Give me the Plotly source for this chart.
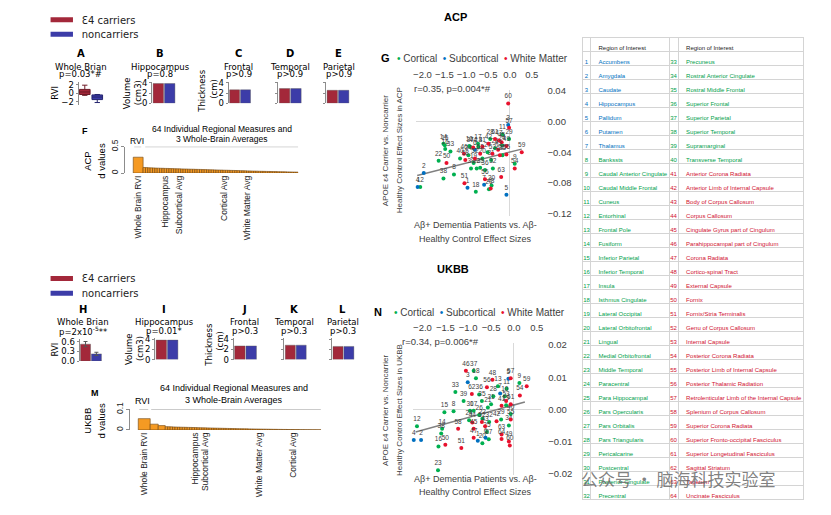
import plotly.graph_objects as go

W, H = 831, 515
DJ = 'DejaVu Sans'
AR = 'Liberation Sans, Arial, sans-serif'
RED = '#A3283A'
BLUE = '#3C3CA8'
C_CORT = '#00B050'
C_SUB = '#0070C0'
C_WM = '#E8112D'
ORANGE = '#F59A23'
GREY_TXT = '#404040'

# ---------------- data ----------------
groups = ['Ɛ4 carriers', 'noncarriers']

# ACP whole brain RVI (box summary)
acp_rvi_lo = [-0.5, -2.2]
acp_rvi_q1 = [-0.3, -1.5]
acp_rvi_med = [0.3, -0.9]
acp_rvi_q3 = [0.9, -0.4]
acp_rvi_hi = [1.9, -0.3]

acp_hippo = [3.9, 3.9]
acp_frontal = [2.65, 2.65]
acp_temporal = [2.9, 2.9]
acp_parietal = [2.55, 2.55]

ukbb_rvi = [0.52, 0.22]
ukbb_rvi_err = [0.08, 0.05]
ukbb_hippo = [3.85, 3.85]
ukbb_frontal = [2.7, 2.7]
ukbb_temporal = [2.85, 2.85]
ukbb_parietal = [2.6, 2.6]

# d values (RVI first, then 64 regions + 3 averages, sorted)
acp_d = [0.30,
         0.105, 0.103, 0.100, 0.098, 0.097, 0.094, 0.093, 0.091, 0.090, 0.088,
         0.087, 0.085, 0.084, 0.082, 0.081, 0.080, 0.078, 0.077, 0.076, 0.074,
         0.073, 0.072, 0.070, 0.069, 0.068, 0.066, 0.065, 0.064, 0.062, 0.061,
         0.060, 0.058, 0.057, 0.056, 0.054, 0.053, 0.052, 0.050, 0.049, 0.048,
         0.046, 0.045, 0.044, 0.042, 0.041, 0.040, 0.038, 0.037, 0.036, 0.034,
         0.033, 0.032, 0.031, 0.030, 0.029, 0.028, 0.027, 0.026, 0.025, 0.024,
         0.023, 0.022, 0.021, 0.020, 0.019, 0.018]
acp_d_label_idx = [0, 10, 16, 35, 45]
acp_d_labels = ['Whole Brain RVI', 'Hippocampus', 'Subcortical Avg', 'Cortical Avg', 'White Matter Avg']

ukbb_d = [0.055, 0.028, 0.021,
          0.016, 0.0155, 0.015, 0.0145, 0.014, 0.0137, 0.0133, 0.013, 0.0127, 0.0123,
          0.012, 0.0117, 0.0113, 0.011, 0.0107, 0.0103, 0.010, 0.0097, 0.0094, 0.0091,
          0.0088, 0.0085, 0.0082, 0.0079, 0.0076, 0.0073, 0.0070, 0.0067, 0.0065, 0.0062,
          0.0060, 0.0057, 0.0055, 0.0052, 0.0050, 0.0048, 0.0046, 0.0044, 0.0042, 0.0040,
          0.0038, 0.0036, 0.0034, 0.0032, 0.0030, 0.0028, 0.0026, 0.0025, 0.0023, 0.0022,
          0.0020, 0.0019, 0.0017, 0.0016, 0.0014, 0.0013, 0.0012, 0.0010, 0.0009, 0.0008,
          0.0007, 0.0006, 0.0005, 0.0004]
ukbb_d_label_idx = [0, 15, 19, 41, 55]
ukbb_d_labels = ['Whole Brain RVI', 'Hippocampus', 'Subcortical Avg', 'White Matter Avg', 'Cortical Avg']

regions = ['Accumbens', 'Amygdala', 'Caudate', 'Hippocampus', 'Pallidum', 'Putamen', 'Thalamus',
           'Bankssts', 'Caudal Anterior Cingulate', 'Caudal Middle Frontal', 'Cuneus', 'Entorhinal',
           'Frontal Pole', 'Fusiform', 'Inferior Parietal', 'Inferior Temporal', 'Insula',
           'Isthmus Cingulate', 'Lateral Occipital', 'Lateral Orbitofrontal', 'Lingual',
           'Medial Orbitofrontal', 'Middle Temporal', 'Paracentral', 'Para Hippocampal',
           'Pars Opercularis', 'Pars Orbitalis', 'Pars Triangularis', 'Pericalcarine', 'Postcentral',
           'Posterior Cingulate', 'Precentral', 'Precuneus', 'Rostral Anterior Cingulate',
           'Rostral Middle Frontal', 'Superior Frontal', 'Superior Parietal', 'Superior Temporal',
           'Supramarginal', 'Transverse Temporal', 'Anterior Corona Radiata',
           'Anterior Limb of Internal Capsule', 'Body of Corpus Callosum', 'Corpus Callosum',
           'Cingulate Gyrus part of Cingulum', 'Parahippocampal part of Cingulum', 'Corona Radiata',
           'Cortico-spinal Tract', 'External Capsule', 'Fornix', 'Fornix/Stria Terminalis',
           'Genu of Corpus Callosum', 'Internal Capsule', 'Posterior Corona Radiata',
           'Posterior Limb of Internal Capsule', 'Posterior Thalamic Radiation',
           'Retrolenticular Limb of the Internal Capsule', 'Splenium of Corpus Callosum',
           'Superior Corona Radiata', 'Superior Fronto-occipital Fasciculus',
           'Superior Longetudinal Fasciculus', 'Sagittal Striatum', 'Tapetum', 'Uncinate Fasciculus']
region_type = ['Subcortical'] * 7 + ['Cortical'] * 33 + ['White Matter'] * 24

# ACP scatter (x: dementia effect size, y: e4 effect size)
acp_x = [-0.97, -1.97, -0.04, -2.11, -0.08, -0.80, -0.59, -1.28, 0.11, -0.93,
         -0.17, -2.05, -0.72, -1.52, -1.49, -1.48, -0.73, -0.78, -0.83, -0.63,
         -0.48, -1.63, -0.76, -0.18, -0.68, -0.34, -0.51, -0.45, -0.02, -0.42,
         -0.43, -0.39, -1.36, -0.95, -0.17, -0.57, -0.91, -1.52, -0.89, -1.14,
         -0.63, -0.49, -0.27, -0.84, -0.19, -1.05, -0.25, -0.44, -0.08, -1.45,
         -1.04, -0.80, -0.40, 0.11, -0.08, -0.57, -0.02, -1.02, 0.27, -0.04,
         -0.34, -0.68, -0.20, -0.23]
acp_y = [-0.086, -0.067, -0.005, -0.085, -0.095, -0.037, -0.082, -0.069, -0.055, -0.032,
         -0.017, -0.085, -0.033, -0.029, -0.031, -0.036, -0.029, -0.091, -0.054, -0.048,
         -0.088, -0.051, -0.061, -0.031, -0.060, -0.035, -0.040, -0.023, -0.023, -0.083,
         -0.050, -0.061, -0.039, -0.044, -0.044, -0.063, -0.033, -0.074, -0.061, -0.048,
         -0.033, -0.029, -0.037, -0.034, -0.027, -0.042, -0.025, -0.087, -0.032, -0.054,
         -0.080, -0.048, -0.042, -0.061, -0.043, -0.075, -0.0085, -0.050, -0.040, 0.023,
         -0.023, -0.042, -0.072, -0.044]
acp_trend_x = [-2.12, 0.27]
acp_trend_y = [-0.070, -0.036]

# UKBB scatter
ukbb_x = [-0.79, -2.03, -1.01, -2.19, -0.12, -0.62, -0.30, -1.32, 0.12, -0.20,
          -0.16, -2.12, -0.35, -1.57, -1.52, -1.65, -0.88, -0.83, -0.17, -0.69,
          -0.57, -0.69, -1.66, -0.98, -0.59, -0.76, -0.55, -0.45, -0.28, -0.96,
          -0.50, -0.54, -1.28, -0.11, -0.70, -0.76, -0.88, -1.59, -1.10, -0.07,
          -0.27, -0.38, -0.63, -0.91, -0.88, -1.05, -0.88, -0.47, -0.11, -1.50,
          -1.15, -0.70, -0.17, 0.13, -0.07, -0.59, -0.07, -1.22, 0.28, -0.09,
          -0.07, -0.92, -0.27, -0.27]
ukbb_y = [-0.0097, -0.0095, 0.0084, -0.0095, 0.0095, -0.0088, 0.0049, -0.0006, 0.0082, 0.0041,
          0.0064, -0.0052, 0.0072, -0.0060, -0.0009, -0.0115, -0.0004, 0.0097, 0.0013, -0.0105,
          0.0006, -0.0029, -0.0189, -0.0034, -0.0070, -0.0017, -0.0093, 0.0041, -0.0031, -0.0004,
          0.0016, -0.0039, 0.0054, -0.0050, 0.0026, 0.0046, 0.0120, -0.0075, 0.0026, -0.0014,
          0.0011, -0.0037, -0.0052, -0.0041, -0.0060, 0.0120, -0.0088, 0.0092, -0.0100, -0.0110,
          -0.0120, -0.0039, 0.0026, 0.0043, -0.0031, 0.0069, 0.0097, -0.0060, 0.0072, -0.0112,
          0.0016, 0.0048, -0.0078, -0.0092]
ukbb_trend_x = [-2.15, 0.24]
ukbb_trend_y = [-0.0070, 0.0023]

effect_ticks = [-2.0, -1.5, -1.0, -0.5, 0.0, 0.5]


# ---------------- helpers ----------------
def fx(p):
    return p / W


def fy(p):
    return 1 - p / H


fig = go.Figure()
axn = [0]


def axes(x0, x1, y0, y1, xa=None, ya=None):
    axn[0] += 1
    k = '' if axn[0] == 1 else str(axn[0])
    xd = dict(domain=[fx(x0), fx(x1)], anchor='y' + k, showgrid=False, zeroline=False,
              showline=False, ticks='', showticklabels=False)
    yd = dict(domain=[fy(y1), fy(y0)], anchor='x' + k, showgrid=False, zeroline=False)
    xd.update(xa or {})
    yd.update(ya or {})
    fig.update_layout({'xaxis' + k: xd, 'yaxis' + k: yd})
    return 'x' + k, 'y' + k


def txt(x, y, s, size=8.5, family=DJ, color='black', angle=0, xanchor='center'):
    fig.add_annotation(x=fx(x), y=fy(y), xref='paper', yref='paper', text=s, showarrow=False,
                       font=dict(family=family, size=size, color=color), textangle=angle,
                       xanchor=xanchor, yanchor='middle')


def small_y(rng, tv, tt=None, labels=True):
    d = dict(range=rng, tickvals=tv, showticklabels=labels, showline=True, linecolor='#8c8c8c',
             linewidth=1, ticks='outside', ticklen=2, tickcolor='#8c8c8c',
             tickfont=dict(family=DJ, size=8.5))
    if tt:
        d['ticktext'] = tt
    return d


def bar_panel(x0, x1, y0, y1, vals, yax, err=None):
    xa, ya = axes(x0, x1, y0, y1, dict(range=[-0.55, 1.55]), yax)
    eb = dict(type='data', array=err, visible=True, color='#555', thickness=1, width=2) if err else None
    fig.add_trace(go.Bar(x=groups, y=vals, width=0.92, error_y=eb,
                         marker=dict(color=[RED, BLUE], line=dict(color='#555', width=0.4)),
                         showlegend=False, xaxis=xa, yaxis=ya))


def d_panel(x0, x1, y0, y1, vals, widths, xr, yr, tv, tt, lab_idx, labs):
    centers = []
    s = 0
    for w in widths:
        centers.append(s + w / 2)
        s += w
    xa, ya = axes(x0, x1, y0, y1,
                  dict(range=xr, showticklabels=True, tickangle=-90,
                       tickvals=[centers[i] for i in lab_idx], ticktext=labs,
                       tickfont=dict(family=AR, size=8.5, color='#222')),
                  dict(range=yr, tickvals=tv, ticktext=tt, tickangle=-90, showline=True,
                       linecolor='#8c8c8c', ticks='outside', ticklen=3, tickcolor='#8c8c8c',
                       tickfont=dict(family=AR, size=8.5, color='#222')))
    fig.add_trace(go.Bar(x=centers, y=vals, width=widths,
                         marker=dict(color=ORANGE, line=dict(color='#6b4310', width=0.6)),
                         showlegend=False, xaxis=xa, yaxis=ya))
    return xa, ya


def scatter_panel(x0, x1, y0, y1, xr, yr, yt, xs, ys, tx, ty):
    xa, ya = axes(x0, x1, y0, y1,
                  dict(range=xr, side='top', tickvals=effect_ticks, tickformat='.1f',
                       showticklabels=True, ticks='outside', ticklen=8,
                       tickcolor='rgba(0,0,0,0)', zeroline=True, zerolinecolor='#D9D9D9',
                       zerolinewidth=1, tickfont=dict(family=AR, size=9.5, color=GREY_TXT)),
                  dict(range=yr, side='right', tickvals=yt, tickformat='.2f', ticks='outside',
                       ticklen=4, tickcolor='rgba(0,0,0,0)', zeroline=True,
                       zerolinecolor='#D9D9D9', zerolinewidth=1,
                       tickfont=dict(family=AR, size=9.5, color=GREY_TXT)))
    fig.add_trace(go.Scatter(x=tx, y=ty, mode='lines', line=dict(color='#808080', width=1.5),
                             showlegend=False, xaxis=xa, yaxis=ya))
    for t, col in [('Cortical', C_CORT), ('Subcortical', C_SUB), ('White Matter', C_WM)]:
        idx = [i for i in range(64) if region_type[i] == t]
        fig.add_trace(go.Scatter(
            x=[xs[i] for i in idx], y=[ys[i] for i in idx], text=[str(i + 1) for i in idx],
            mode='markers+text', textposition='top center', cliponaxis=False,
            marker=dict(size=4, color=col),
            textfont=dict(family=AR, size=6.5, color=GREY_TXT),
            showlegend=False, xaxis=xa, yaxis=ya))


def legend_line(x, y, s):
    txt(x, y, s, size=10, family=AR, color=GREY_TXT, xanchor='left')


def legend_key(name, col, leg, xa, ya):
    fig.add_trace(go.Scatter(x=[None], y=[None], mode='markers', name=name, legend=leg,
                             marker=dict(symbol='line-ew', size=20, color=col,
                                         line=dict(width=7, color=col)),
                             xaxis=xa, yaxis=ya))


# ---------------- top block: ACP ----------------
txt(455, 10, '<b>ACP</b>', size=11, family=AR)

xa, ya = axes(76, 103, 77, 100, dict(range=[-0.5, 1.65]), small_y([-2.7, 2.6], [-2, 0, 2]))
for i, col, lc in [(0, RED, '#6e1a26'), (1, BLUE, '#25256e')]:
    fig.add_trace(go.Box(x=[groups[i]], lowerfence=[acp_rvi_lo[i]], q1=[acp_rvi_q1[i]],
                         median=[acp_rvi_med[i]], q3=[acp_rvi_q3[i]], upperfence=[acp_rvi_hi[i]],
                         fillcolor=col, line=dict(color=lc, width=1), width=0.85,
                         whiskerwidth=0.5, showlegend=False, xaxis=xa, yaxis=ya))
legend_key(groups[0], RED, 'legend', xa, ya)
legend_key(groups[1], BLUE, 'legend2', xa, ya)

bar_panel(150, 174, 76.5, 98.5, acp_hippo, small_y([0, 4.25], [0, 2, 4]))
bar_panel(227, 250, 76.5, 98.5, acp_frontal, small_y([0, 4.25], [0, 2, 4]))
bar_panel(277, 301, 76.5, 98.5, acp_temporal, small_y([0, 4.25], [0, 2, 4], labels=False))
bar_panel(325, 349, 76.5, 98.5, acp_parietal, small_y([0, 4.25], [0, 2, 4], labels=False))

for x, letter, l1, l2 in [(78, 'A', 'Whole Brian', 'p=0.03*#'), (158, 'B', 'Hippocampus', 'p=0.8'),
                          (237, 'C', 'Frontal', 'p>0.9'), (289, 'D', 'Temporal', 'p>0.9'),
                          (338, 'E', 'Parietal', 'p>0.9')]:
    txt(x, 48, '<b>%s</b>' % letter, size=10)
    txt(x, 61, l1, size=8.5)
    txt(x, 68.5, l2, size=8.5)
txt(52, 88, 'RVI', size=8.5, angle=-90)
txt(125, 88, 'Volume', size=8.5, angle=-90)
txt(136, 88, '(cm3)', size=8.5, angle=-90)
txt(200, 86, 'Thickness', size=8.5, angle=-90)
txt(212, 84, '(cm)', size=8.5, angle=-90)

fxa, fya = d_panel(123, 297, 143, 170, acp_d, [4.2] + [1] * 66, [-3.4, 70.2], [0, 0.5],
                   [0, 0.5], ['0', '0.5'], acp_d_label_idx, acp_d_labels)
fig.add_shape(type='line', xref=fxa, yref=fya, x0=0.4, x1=3.4, y0=0.5, y1=0.5,
              line=dict(color='#8c8c8c', width=1))
fig.add_shape(type='line', xref=fxa, yref=fya, x0=5.1, x1=70.2, y0=0.5, y1=0.5,
              line=dict(color='#8c8c8c', width=1))
txt(82, 127, '<b>F</b>', size=9, family=AR)
txt(135, 137.5, 'RVI', size=8.5, family=AR)
txt(220, 125, '64 Individual Regional Measures and', size=8.5, family=AR)
txt(220, 135.5, '3 Whole-Brain Averages', size=8.5, family=AR)
txt(85, 157, 'ACP', size=9.5, family=AR, angle=-90)
txt(99, 157, 'd values', size=9.5, family=AR, angle=-90)

scatter_panel(415.4, 540.8, 85.3, 213.6, [-2.15, 0.7], [-0.122, 0.04],
              [-0.12, -0.08, -0.04, 0.0, 0.04], acp_x, acp_y, acp_trend_x, acp_trend_y)
txt(385, 52, '<b>G</b>', size=11, family=AR)
legend_line(394, 52.5, '<span style="color:%s">•</span> Cortical  <span style="color:%s">•</span> '
            'Subcortical  <span style="color:%s">•</span> White Matter' % (C_CORT, C_SUB, C_WM))
txt(452, 83, 'r=0.35, p=0.004*#', size=9.5, family=AR, color=GREY_TXT)
txt(385, 147, 'APOE ε4 Carrier vs. Noncarrier', size=8, family=AR, color=GREY_TXT, angle=-90)
txt(399, 147, 'Healthy Control Effect Sizes in ACP', size=8, family=AR, color=GREY_TXT, angle=-90)
txt(475, 223, 'Aβ+ Dementia Patients vs. Aβ-', size=9, family=AR, color=GREY_TXT)
txt(475, 238, 'Healthy Control Effect Sizes', size=9, family=AR, color=GREY_TXT)

# ---------------- bottom block: UKBB ----------------
txt(453, 268, '<b>UKBB</b>', size=11, family=AR)

xa, ya = axes(77, 100, 340, 362.5, dict(range=[-0.55, 1.55]),
              small_y([0, 0.675], [0, 0.3, 0.6], ['0.0', '0.3', '0.6']))
fig.add_trace(go.Bar(x=groups, y=ukbb_rvi, width=0.92,
                     error_y=dict(type='data', array=ukbb_rvi_err, color='#555', thickness=1, width=2),
                     marker=dict(color=[RED, BLUE], line=dict(color='#555', width=0.4)),
                     showlegend=False, xaxis=xa, yaxis=ya))
legend_key(groups[0], RED, 'legend3', xa, ya)
legend_key(groups[1], BLUE, 'legend4', xa, ya)

bar_panel(153, 177, 339, 361, ukbb_hippo, small_y([0, 4.25], [0, 2, 4]))
bar_panel(232, 256, 339, 361, ukbb_frontal, small_y([0, 4.25], [0, 2, 4]))
bar_panel(283, 306, 339, 361, ukbb_temporal, small_y([0, 4.25], [0, 2, 4], labels=False))
bar_panel(331, 354, 339, 361, ukbb_parietal, small_y([0, 4.25], [0, 2, 4], labels=False))

for x, letter, l1, l2 in [(80, 'H', 'Whole Brian', 'p=2x10<sup>-5</sup>**'),
                          (162, 'I', 'Hippocampus', 'p=0.01*'),
                          (243, 'J', 'Frontal', 'p>0.3'), (293, 'K', 'Temporal', 'p>0.3'),
                          (342, 'L', 'Parietal', 'p>0.3')]:
    txt(x, 310, '<b>%s</b>' % letter, size=10)
    txt(x, 323, l1, size=8.5)
    txt(x, 331.5, l2, size=8.5)
txt(52, 351, 'RVI', size=8.5, angle=-90)
txt(127, 350, 'Volume', size=8.5, angle=-90)
txt(138, 350, '(cm3)', size=8.5, angle=-90)
txt(207, 346, 'Thickness', size=8.5, angle=-90)
txt(218, 342, '(cm)', size=8.5, angle=-90)

mxa, mya = d_panel(128, 320, 412, 433, ukbb_d, [4.9, 3.3, 2.9] + [1] * 64, [-3.3, 75.1],
                   [0, 0.1], [0, 0.1], ['0', '0.1'], ukbb_d_label_idx, ukbb_d_labels)
fig.add_shape(type='line', xref=mxa, yref=mya, x0=0.4, x1=4.1, y0=0.1, y1=0.1,
              line=dict(color='#8c8c8c', width=1))
fig.add_shape(type='line', xref=mxa, yref=mya, x0=5.3, x1=75.0, y0=0.1, y1=0.1,
              line=dict(color='#8c8c8c', width=1))
txt(93, 395, '<b>M</b>', size=9, family=AR)
txt(140, 403, 'RVI', size=9, family=AR)
txt(232, 390.5, '64 Individual Regional Measures and', size=9, family=AR)
txt(232, 402.5, '3 Whole-Brain Averages', size=9, family=AR)
txt(85, 423, 'UKBB', size=9.5, family=AR, angle=-90)
txt(99, 423, 'd values', size=9.5, family=AR, angle=-90)

scatter_panel(412.8, 541.6, 344.4, 479.6, [-2.2, 0.6], [-0.0205, 0.0205],
              [-0.02, -0.01, 0.0, 0.01, 0.02], ukbb_x, ukbb_y, ukbb_trend_x, ukbb_trend_y)
txt(377, 312, '<b>N</b>', size=11, family=AR)
legend_line(391, 312.5, '<span style="color:%s">•</span> Cortical  <span style="color:%s">•</span> '
            'Subcortical  <span style="color:%s">•</span> White Matter' % (C_CORT, C_SUB, C_WM))
txt(440, 342, 'r=0.34, p=0.006*#', size=9.5, family=AR, color=GREY_TXT)
txt(385, 413, 'APOE ε4 Carrier vs. Noncarrier', size=8, family=AR, color=GREY_TXT, angle=-90)
txt(399, 413, 'Healthy Control Effect Sizes in UKBB', size=8, family=AR, color=GREY_TXT, angle=-90)
txt(475, 483, 'Aβ+ Dementia Patients vs. Aβ-', size=9, family=AR, color=GREY_TXT)
txt(475, 497, 'Healthy Control Effect Sizes', size=9, family=AR, color=GREY_TXT)

# ---------------- region table ----------------
type_color = {'Subcortical': C_SUB, 'Cortical': '#00A04A', 'White Matter': '#D0102E'}
colors = [type_color[t] for t in region_type]
nums = [str(i + 1) for i in range(64)]
cell_names = [r.replace(' ', '\u00a0') for r in regions]
fig.add_trace(go.Table(
    domain=dict(x=[fx(583), fx(806)], y=[fy(507), fy(31)]),
    columnwidth=[8, 79, 9, 126],
    header=dict(values=['', 'Region\u00a0of\u00a0Interest', '', 'Region\u00a0of\u00a0Interest'],
                height=14, align=['center', 'left', 'center', 'left'],
                font=dict(family=AR, size=6, color='#222'),
                fill=dict(color='white'), line=dict(color='#D4D4D4', width=1)),
    cells=dict(values=[nums[:32], cell_names[:32], nums[32:], cell_names[32:]], height=14,
               align=['center', 'left', 'center', 'left'],
               font=dict(family=AR, size=6,
                         color=[colors[:32], colors[:32], colors[32:], colors[32:]]),
               fill=dict(color='white'), line=dict(color='#D4D4D4', width=1))))

# watermark
txt(680, 483, '公众号 · 脑海科技实验室', size=17, family='Noto Sans CJK SC',
    color='rgba(95,95,95,0.8)')

leg = dict(xanchor='left', yanchor='middle', bgcolor='rgba(0,0,0,0)', itemwidth=30,
           font=dict(family=DJ, size=10, color='#222'), tracegroupgap=0)
fig.update_layout(
    width=W, height=H, margin=dict(l=0, r=0, t=0, b=0),
    paper_bgcolor='white', plot_bgcolor='rgba(0,0,0,0)',
    font=dict(family=DJ, size=9, color='black'),
    legend=dict(leg, x=fx(39), y=fy(13)),
    legend2=dict(leg, x=fx(39), y=fy(28)),
    legend3=dict(leg, x=fx(39), y=fy(278)),
    legend4=dict(leg, x=fx(39), y=fy(293)),
)

fig.write_html("out.html", config={'displayModeBar': False},
               post_script="document.body.style.margin='0px';")
